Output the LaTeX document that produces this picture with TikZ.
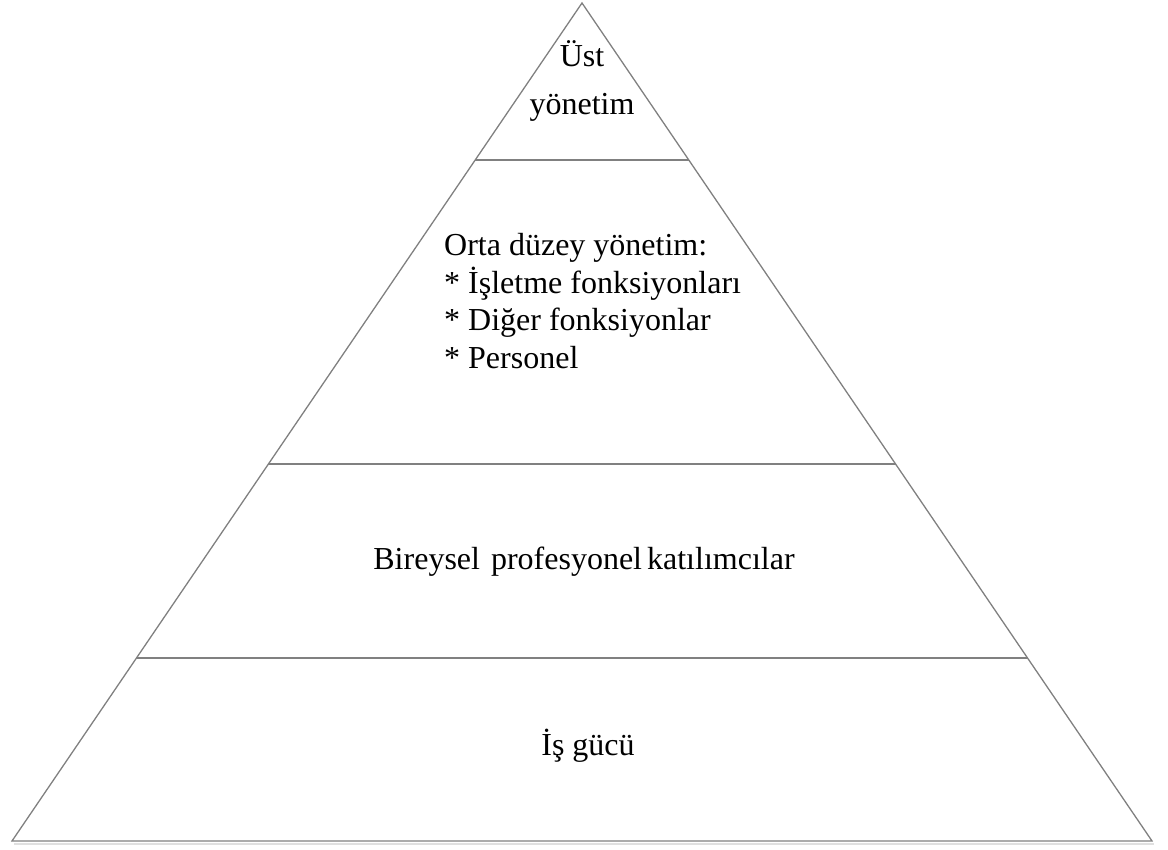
\documentclass[tikz,border=0pt]{standalone}
\usepackage{fontspec}
\setmainfont{Liberation Serif}
\newfontfamily\timesfont{Liberation Serif}
\usetikzlibrary{positioning, calc}

\begin{document}
\begin{tikzpicture}[
  x=1pt, y=-1pt,
  font=\timesfont\fontsize{32}{37.5}\selectfont,
  edge/.style={draw=black!50, line width=1.3pt, line join=miter},
  tier/.style={draw=black!50, line width=1.3pt},
  caption/.style={inner sep=0pt, align=center},
  items/.style={inner sep=0pt, align=left}
]
  \useasboundingbox (0,0) rectangle (1168,850);
  \coordinate (top) at (582,3);
  \coordinate (bl) at (12,841);
  \coordinate (br) at (1152,841);

  % shadow under the base
  \draw[black!12, line width=2pt] ($(bl)+(2,2.5)$) -- ($(br)+(2,2.5)$);
  \draw[edge] (top) -- (bl) -- (br) -- cycle;

  % tier lines
  \foreach \h in {160,464,658} {
    \pgfmathsetmacro{\f}{(\h-3)/838}
    \draw[tier] ($(top)!\f!(bl)$) -- ($(top)!\f!(br)$);
  }

  \node[caption] (ust) at (582,81) {Üst\\[10.5pt]yönetim};
  \node[items, anchor=west] (orta) at (444,301) {Orta düzey yönetim:\\
    * İşletme fonksiyonları\\
    * Diğer fonksiyonlar\\
    * Personel};
  \node[caption] (birey) at (584,562) {Bireysel\hspace{3pt} profesyonel\hspace{-3pt} katılımcılar};
  \node[caption] (isgucu) at (588,746) {İş gücü};
\end{tikzpicture}
\end{document}
